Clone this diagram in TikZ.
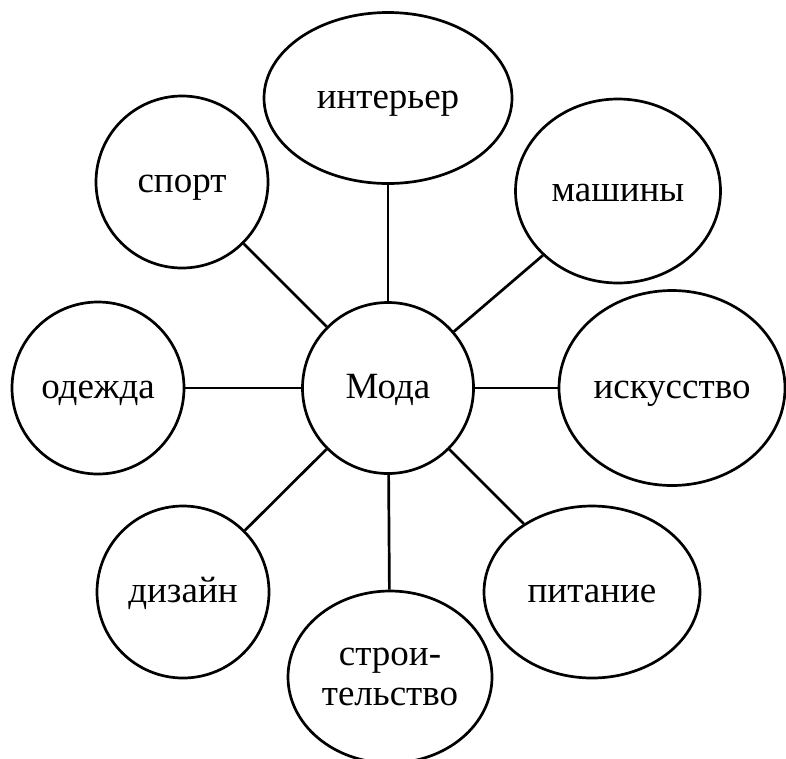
\documentclass[tikz,border=0pt]{standalone}
\usepackage{fontspec}
\setmainfont{Liberation Serif}
\usetikzlibrary{shapes.geometric}
\begin{document}
\begin{tikzpicture}[x=1pt,y=-1pt,
  bubble/.style={draw=black, line width=2.7pt, ellipse, inner sep=0pt, align=center,
    font=\fontsize{37}{40}\selectfont},
  oneline/.style={text height=20pt, text depth=0pt},
  link/.style={draw=black, line width=2.7pt}]
\useasboundingbox (0,0) rectangle (786,758);
\node[bubble, oneline, minimum width=171pt, minimum height=171pt] (moda) at (388,388) {Мода};
\node[bubble, oneline, minimum width=248pt, minimum height=171pt] (inter) at (388,98) {интерьер};
\node[bubble, oneline, minimum width=172pt, minimum height=172pt] (sport) at (182,182) {спорт};
\node[bubble, oneline, minimum width=205pt, minimum height=184pt] (mash) at (618,191) {машины};
\node[bubble, oneline, minimum width=172pt, minimum height=172pt] (odezh) at (98,388) {одежда};
\node[bubble, oneline, minimum width=226pt, minimum height=195pt] (isk) at (672,388) {искусство};
\node[bubble, oneline, minimum width=172pt, minimum height=172pt] (diz) at (183,592) {дизайн};
\node[bubble, minimum width=204pt, minimum height=172pt] (stroi) at (390,677) {строи-\\тельство};
\node[bubble, oneline, minimum width=216pt, minimum height=172pt] (pit) at (592,592) {питание};
\draw[link] (moda) -- (inter);
\draw[link] (moda) -- (sport);
\draw[link] (moda) -- (mash);
\draw[link] (moda) -- (odezh);
\draw[link] (moda) -- (isk);
\draw[link] (moda) -- (diz);
\draw[link] (moda) -- (stroi);
\draw[link] (moda) -- (pit);
\end{tikzpicture}
\end{document}
